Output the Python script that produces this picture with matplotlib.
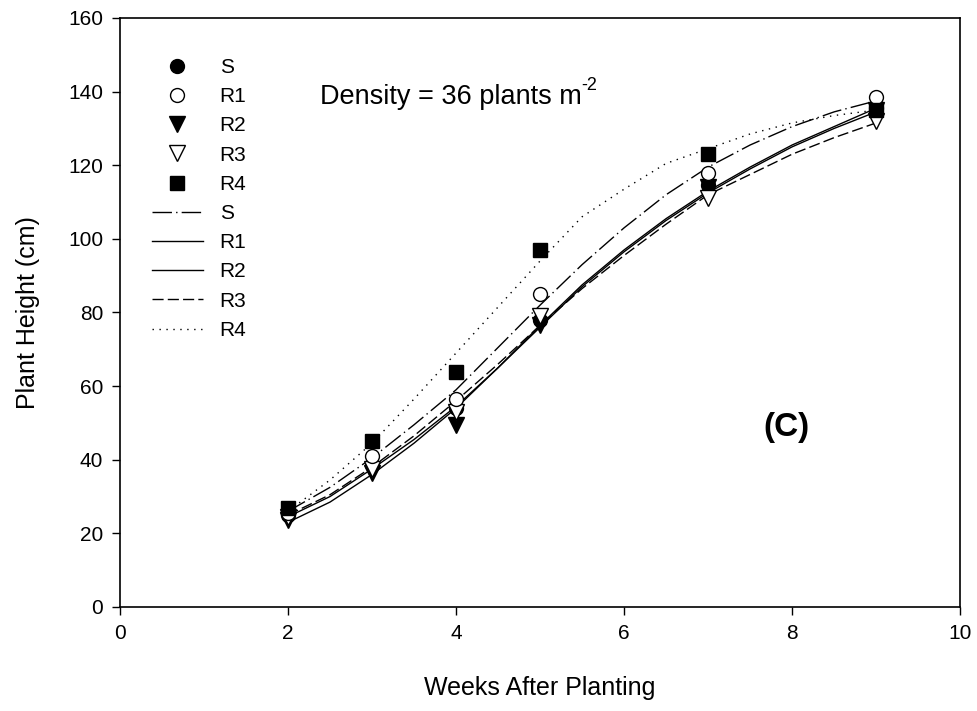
import matplotlib.pyplot as plt
from matplotlib.lines import Line2D

plt.rcParams['font.family'] = ['Liberation Sans', 'DejaVu Sans']

# observed heights (cm) at weeks after planting
weeks = [2, 3, 4, 5, 7, 9]
obs_s = [25, 38.5, 54, 78, 114.5, 135.5]
obs_r1 = [25.5, 41, 56.5, 85, 118, 138.5]
obs_r2 = [23.5, 36.5, 49.5, 76.5, 114, 135]
obs_r3 = [24.5, 37.5, 53, 79, 111, 132]
obs_r4 = [27, 45, 63.8, 97, 123, 135]

# fitted curves
fit_x = [2, 2.5, 3, 3.5, 4, 4.5, 5, 5.5, 6, 6.5, 7, 7.5, 8, 8.5, 9]
fit_s = [26, 32.5, 40.5, 49.5, 59, 70.5, 82, 93, 103, 112, 119.5, 125.5, 130.5, 134.5, 137.5]
fit_r1 = [24.5, 30, 37.5, 45.5, 54.5, 65, 76.5, 87.5, 97, 105.5, 113, 119.5, 125.5, 130.5, 135.5]
fit_r2 = [23, 28.5, 36, 44.5, 54, 65, 76, 87, 96.5, 105, 112.5, 119, 125, 130, 134.5]
fit_r3 = [25, 30.5, 38, 46.5, 56, 66, 76.5, 86.5, 95.5, 104, 112, 117.5, 123, 127.5, 131.5]
fit_r4 = [26, 34.5, 44.5, 56.5, 69, 81.5, 94, 106, 113.5, 120.5, 124.5, 128.5, 131.5, 133.5, 135]

fig = plt.figure(figsize=(9.77, 7.11), dpi=100)
ax = fig.add_axes([0.1228, 0.1463, 0.86, 0.8284])

lw = 1.0
ls_s = (0, (14, 3, 1, 3))
ls_r3 = (0, (8, 3))
ls_r4 = (0, (1, 4))
ax.plot(fit_x, fit_s, color='black', lw=lw, ls=ls_s)
ax.plot(fit_x, fit_r1, color='black', lw=lw)
ax.plot(fit_x, fit_r2, color='black', lw=lw)
ax.plot(fit_x, fit_r3, color='black', lw=lw, ls=ls_r3)
ax.plot(fit_x, fit_r4, color='black', lw=lw, ls=ls_r4)

ms = 10
ax.plot(weeks, obs_s, 'o', color='black', ms=ms)
ax.plot(weeks, obs_r2, 'v', color='black', ms=ms + 1)
ax.plot(weeks, obs_r3, 'v', mfc='white', mec='black', ms=ms + 1)
ax.plot(weeks, obs_r1, 'o', mfc='white', mec='black', ms=ms)
ax.plot(weeks, obs_r4, 's', color='black', ms=ms)

handles = [
    Line2D([], [], ls='none', marker='o', color='black', ms=ms),
    Line2D([], [], ls='none', marker='o', mfc='white', mec='black', ms=ms),
    Line2D([], [], ls='none', marker='v', color='black', ms=ms + 1),
    Line2D([], [], ls='none', marker='v', mfc='white', mec='black', ms=ms + 1),
    Line2D([], [], ls='none', marker='s', color='black', ms=ms),
    Line2D([], [], color='black', lw=lw, ls=ls_s),
    Line2D([], [], color='black', lw=lw),
    Line2D([], [], color='black', lw=lw),
    Line2D([], [], color='black', lw=lw, ls=ls_r3),
    Line2D([], [], color='black', lw=lw, ls=ls_r4),
]
labels = ['S', 'R1', 'R2', 'R3', 'R4', 'S', 'R1', 'R2', 'R3', 'R4']
ax.legend(handles, labels, loc='upper left', bbox_to_anchor=(0.038, 0.932),
          frameon=False, fontsize=15, handlelength=2.45, handletextpad=0.8,
          labelspacing=0.49, borderaxespad=0, borderpad=0)

dens = ax.text(2.38, 138.6, 'Density = 36 plants m', fontsize=19.5, va='center')
ax.annotate('-2', xy=(1, 0.62), xycoords=dens, fontsize=13, va='bottom', ha='left')
ax.text(7.93, 48.7, '(C)', fontsize=24, fontweight='bold', ha='center', va='center')

ax.set_xlim(0, 10)
ax.set_ylim(0, 160)
ax.set_xticks(range(0, 11, 2))
ax.set_yticks(range(0, 161, 20))
ax.tick_params(direction='out', length=6, width=1, labelsize=15, top=False, right=False, pad=6)
for sp in ax.spines.values():
    sp.set_linewidth(1.2)
ax.set_xlabel('Weeks After Planting', fontsize=18, labelpad=24)
ax.set_ylabel('Plant Height (cm)', fontsize=18, labelpad=20)

fig.savefig('out.png', dpi=100)
